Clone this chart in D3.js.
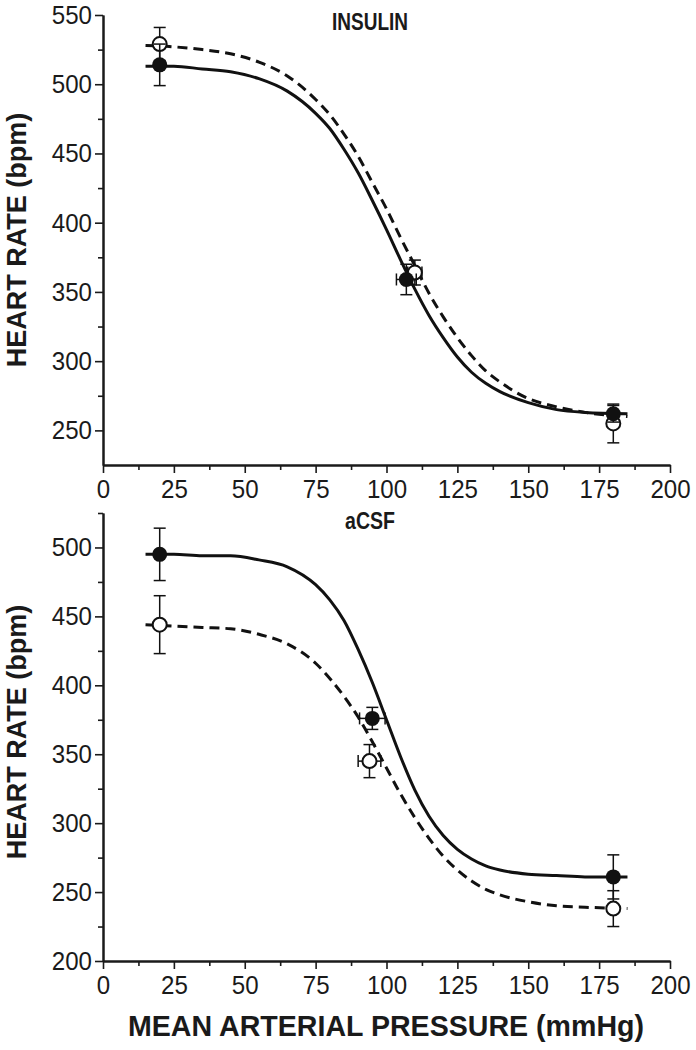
<!DOCTYPE html>
<html>
<head>
<meta charset="utf-8">
<script src="https://cdn.jsdelivr.net/npm/d3@7"></script>
<style>
  body { margin: 0; background: #fff; }
  text { font-family: "Liberation Sans", Arial, sans-serif; fill: #1a1a1a; }
</style>
</head>
<body>
<svg id="canvas"></svg>
<script>
const WIDTH = 696;
const HEIGHT = 1050;

// x positions of the fitted curves (mmHg)
const curveX = [15, 25, 35, 45, 55, 65, 75, 80, 85, 90, 95, 100, 105, 110, 115, 120, 125, 130, 135, 140, 150, 160, 170, 185];

// INSULIN panel
const insSolid = [513, 513, 511, 509, 504, 495, 479, 468, 453, 436, 416, 395, 373, 352, 333, 317, 303, 292, 284, 278, 270, 265, 263, 262];
const insDash = [528, 527, 525, 522, 516, 506, 489, 478, 464, 448, 429, 410, 389, 369, 349, 332, 317, 304, 293, 285, 273, 267, 263, 260];
const insFilledX = [20, 107, 180];
const insFilledY = [514, 359, 262];
const insFilledErrY = [15, 11, 6];
const insFilledErrX = [0, 3.5, 0];
const insOpenX = [20, 110, 180];
const insOpenY = [529, 364, 255];
const insOpenErrY = [12, 9, 14];
const insOpenErrX = [0, 2.5, 0];

// aCSF panel
const csfSolid = [495, 495, 494, 494, 491, 486, 473, 462, 447, 426, 402, 375, 348, 324, 305, 291, 281, 274, 269, 266, 263, 262, 261, 261];
const csfDash = [444, 443, 442, 441, 437, 430, 416, 405, 392, 377, 359, 340, 321, 304, 289, 276, 266, 258, 252, 248, 243, 240, 239, 238];
const csfFilledX = [20, 95, 180];
const csfFilledY = [495, 376, 261];
const csfFilledErrY = [19, 8, 16];
const csfFilledErrX = [0, 4.5, 0];
const csfOpenX = [20, 94, 180];
const csfOpenY = [444, 345, 238];
const csfOpenErrY = [21, 12, 13];
const csfOpenErrX = [0, 4, 0];

// ticks
const xTicks = [0, 25, 50, 75, 100, 125, 150, 175, 200];
const xMinor = [12.5, 37.5, 62.5, 87.5, 112.5, 137.5, 162.5, 187.5];
const insYTicks = [250, 300, 350, 400, 450, 500, 550];
const insYMinor = [275, 325, 375, 425, 475, 525];
const csfYTicks = [200, 250, 300, 350, 400, 450, 500];
const csfYMinor = [225, 275, 325, 375, 425, 475, 525];

const canvas = d3.select("#canvas").attr("width", WIDTH).attr("height", HEIGHT);

const toPoints = (xs, ys, ex, ey) => xs.map((x, i) => ({ x: x, y: ys[i], ex: ex[i], ey: ey[i] }));

const drawPanel = (opts) => {
  const xScale = d3.scaleLinear().domain([0, 200]).range([103, 670]);
  const yScale = d3.scaleLinear().domain(opts.yDomain).range(opts.yRange);
  const g = canvas.append("g");

  // axes
  g.append("g")
    .attr("transform", `translate(0, ${opts.yRange[0]})`)
    .call(d3.axisBottom(xScale).tickValues(xTicks).tickSize(8).tickSizeOuter(0).tickPadding(7));
  g.append("g")
    .attr("transform", `translate(0, ${opts.yRange[0]})`)
    .call(d3.axisBottom(xScale).tickValues(xMinor).tickSize(5).tickSizeOuter(0).tickFormat(""));

  g.append("g")
    .attr("transform", "translate(103, 0)")
    .call(d3.axisLeft(yScale).tickValues(opts.yTicks).tickSize(8).tickSizeOuter(0).tickPadding(3));
  g.append("g")
    .attr("transform", "translate(103, 0)")
    .call(d3.axisLeft(yScale).tickValues(opts.yMinor).tickSize(5).tickSizeOuter(0).tickFormat(""));

  g.selectAll(".domain").attr("stroke", "#1a1a1a").attr("stroke-width", 2);
  g.selectAll(".tick line").attr("stroke", "#1a1a1a").attr("stroke-width", 1.6);
  g.selectAll(".tick text")
    .style("font-size", "26px")
    .style("font-family", "'Liberation Sans', Arial, sans-serif")
    .attr("fill", "#1a1a1a")
    .attr("textLength", function () { return this.textContent.length * 13.4; })
    .attr("lengthAdjust", "spacingAndGlyphs");

  // y title
  g.append("text")
    .attr("transform", `translate(26, ${opts.yTitleY}) rotate(-90)`)
    .attr("text-anchor", "middle")
    .style("font-size", "27px")
    .style("font-weight", "bold")
    .text("HEART RATE (bpm)");

  // panel title
  g.append("text")
    .attr("x", 370)
    .attr("y", opts.titleY)
    .attr("text-anchor", "middle")
    .attr("textLength", opts.titleLen)
    .attr("lengthAdjust", "spacingAndGlyphs")
    .style("font-size", "23px")
    .style("font-weight", "bold")
    .text(opts.title);

  // fitted curves
  const line = d3.line()
    .x((d, i) => xScale(curveX[i]))
    .y((d) => yScale(d))
    .curve(d3.curveMonotoneX);

  g.append("path")
    .attr("d", line(opts.solid))
    .attr("fill", "none")
    .attr("stroke", "#111")
    .attr("stroke-width", 3);
  g.append("path")
    .attr("d", line(opts.dash))
    .attr("fill", "none")
    .attr("stroke", "#111")
    .attr("stroke-width", 3)
    .attr("stroke-dasharray", "10,6");

  // error bars and points
  const drawSeries = (points, filled) => {
    const cap = 6;
    points.forEach((p) => {
      const cx = xScale(p.x);
      const cy = yScale(p.y);
      const top = yScale(p.y + p.ey);
      const bot = yScale(p.y - p.ey);
      g.append("line").attr("x1", cx).attr("x2", cx).attr("y1", top).attr("y2", bot)
        .attr("stroke", "#111").attr("stroke-width", 1.5);
      g.append("line").attr("x1", cx - cap).attr("x2", cx + cap).attr("y1", top).attr("y2", top)
        .attr("stroke", "#111").attr("stroke-width", 1.5);
      g.append("line").attr("x1", cx - cap).attr("x2", cx + cap).attr("y1", bot).attr("y2", bot)
        .attr("stroke", "#111").attr("stroke-width", 1.5);
      if (p.ex > 0) {
        const left = xScale(p.x - p.ex);
        const right = xScale(p.x + p.ex);
        g.append("line").attr("x1", left).attr("x2", right).attr("y1", cy).attr("y2", cy)
          .attr("stroke", "#111").attr("stroke-width", 1.5);
        g.append("line").attr("x1", left).attr("x2", left).attr("y1", cy - cap).attr("y2", cy + cap)
          .attr("stroke", "#111").attr("stroke-width", 1.5);
        g.append("line").attr("x1", right).attr("x2", right).attr("y1", cy - cap).attr("y2", cy + cap)
          .attr("stroke", "#111").attr("stroke-width", 1.5);
      }
    });
    g.selectAll(null)
      .data(points)
      .enter()
      .append("circle")
      .attr("cx", (d) => xScale(d.x))
      .attr("cy", (d) => yScale(d.y))
      .attr("r", filled ? 7.5 : 7)
      .attr("fill", filled ? "#111" : "#fff")
      .attr("stroke", "#111")
      .attr("stroke-width", filled ? 0 : 2);
  };

  drawSeries(opts.open, false);
  drawSeries(opts.filled, true);
};

drawPanel({
  yDomain: [225, 550],
  yRange: [465, 15],
  yTicks: insYTicks,
  yMinor: insYMinor,
  yTitleY: 240,
  title: "INSULIN",
  titleY: 30,
  titleLen: 76,
  solid: insSolid,
  dash: insDash,
  filled: toPoints(insFilledX, insFilledY, insFilledErrX, insFilledErrY),
  open: toPoints(insOpenX, insOpenY, insOpenErrX, insOpenErrY),
});

drawPanel({
  yDomain: [200, 525],
  yRange: [961, 513],
  yTicks: csfYTicks,
  yMinor: csfYMinor,
  yTitleY: 732,
  title: "aCSF",
  titleY: 529,
  titleLen: 50,
  solid: csfSolid,
  dash: csfDash,
  filled: toPoints(csfFilledX, csfFilledY, csfFilledErrX, csfFilledErrY),
  open: toPoints(csfOpenX, csfOpenY, csfOpenErrX, csfOpenErrY),
});

// shared x title
canvas.append("text")
  .attr("x", 386)
  .attr("y", 1036)
  .attr("text-anchor", "middle")
  .attr("textLength", 516)
  .attr("lengthAdjust", "spacingAndGlyphs")
  .style("font-size", "30px")
  .style("font-weight", "bold")
  .text("MEAN ARTERIAL PRESSURE (mmHg)");
</script>
</body>
</html>
